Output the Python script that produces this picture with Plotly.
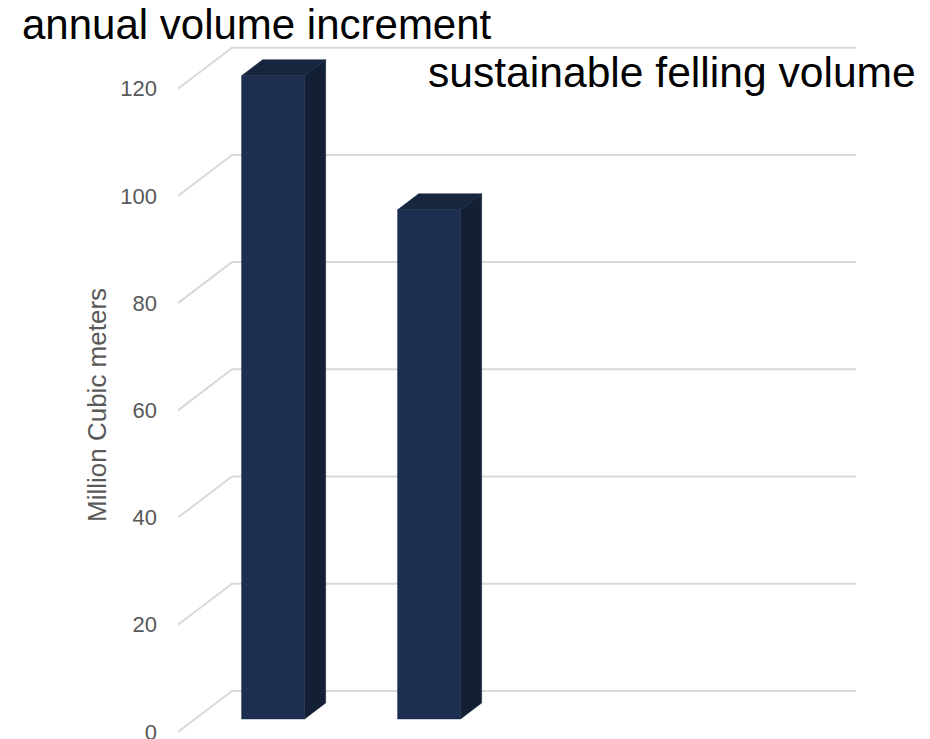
import plotly.graph_objects as go

# Data
categories = ["annual volume increment", "sustainable felling volume"]
values = [120, 95]
y_ticks = [0, 20, 40, 60, 80, 100, 120]
y_title = "Million Cubic meters"
n_slots = 4  # category slots on the floor of the 3-D box

# Oblique projection of the 3-D box: depth t in [0, 1] shifts a point
# right by DX (slot units) and up by DY (value units).
DX = 0.346
DY = 7.65
T_FRONT, T_BACK = 0.317, 0.707
BAR_W = 0.404

FRONT_C = "#1d2e50"
SIDE_C = "#121f34"
TOP_C = "#17263f"
GRID_C = "#d9d9d9"
FONT = "Liberation Sans, Arial, sans-serif"


def proj(x, v, t):
    return x + t * DX, v + t * DY


def poly(points):
    xs, ys = [], []
    for x, v, t in points:
        px, py = proj(x, v, t)
        xs.append(px)
        ys.append(py)
    xs.append(xs[0])
    ys.append(ys[0])
    return xs, ys


fig = go.Figure()

# Gridlines: diagonal on the side wall, horizontal on the back wall
gx, gy = [], []
for v in y_ticks:
    for x, t in [(0, 0), (0, 1), (n_slots, 1)]:
        px, py = proj(x, v, t)
        gx.append(px)
        gy.append(py)
    gx.append(None)
    gy.append(None)
fig.add_trace(go.Scatter(x=gx, y=gy, mode="lines",
                         line=dict(color=GRID_C, width=2),
                         hoverinfo="skip", showlegend=False))

# 3-D bars: side, top and front faces
for i, (cat, v) in enumerate(zip(categories, values)):
    c = i + 0.5
    x0, x1 = c - BAR_W / 2, c + BAR_W / 2
    faces = [
        ([(x1, 0, T_FRONT), (x1, 0, T_BACK), (x1, v, T_BACK), (x1, v, T_FRONT)], SIDE_C),
        ([(x0, v, T_FRONT), (x1, v, T_FRONT), (x1, v, T_BACK), (x0, v, T_BACK)], TOP_C),
        ([(x0, 0, T_FRONT), (x1, 0, T_FRONT), (x1, v, T_FRONT), (x0, v, T_FRONT)], FRONT_C),
    ]
    for pts, col in faces:
        xs, ys = poly(pts)
        fig.add_trace(go.Scatter(x=xs, y=ys, mode="lines", fill="toself",
                                 fillcolor=col, line=dict(color=col, width=0.5),
                                 name=cat, hovertemplate=f"{cat}: {v}<extra></extra>",
                                 showlegend=False))

W, H = 930, 739
L, R, T, B = 178, 50, 19, 0
plot_w = W - L - R
plot_h = H - T - B
Y_MIN, Y_MAX = -1.31, 133


def paper_y(py):
    return (H - B - py) / plot_h


fig.update_layout(
    width=W, height=H,
    margin=dict(l=L, r=R, t=T, b=B),
    paper_bgcolor="white", plot_bgcolor="white",
    showlegend=False,
    xaxis=dict(range=[0, plot_w / 156.0], visible=False, fixedrange=True,
               automargin=False),
    yaxis=dict(range=[Y_MIN, Y_MAX], tickvals=y_ticks, showgrid=False, zeroline=False,
               showline=False, ticks="", ticklabelstandoff=20,
               ticklabeloverflow="allow", automargin=False,
               tickfont=dict(family=FONT, size=22, color="#595959"),
               fixedrange=True),
    annotations=[
        dict(text=y_title, xref="paper", yref="paper",
             x=(97 - L) / plot_w, y=paper_y(405),
             textangle=-90, showarrow=False, xanchor="center", yanchor="middle",
             font=dict(family=FONT, size=26, color="#595959")),
        dict(text=categories[0], xref="paper", yref="paper",
             x=(20 - L) / plot_w, y=paper_y(25),
             showarrow=False, xanchor="left", yanchor="middle",
             font=dict(family=FONT, size=42, color="#000000")),
        dict(text=categories[1], xref="paper", yref="paper",
             x=(426 - L) / plot_w, y=paper_y(72),
             showarrow=False, xanchor="left", yanchor="middle",
             font=dict(family=FONT, size=42.6, color="#000000")),
    ],
)

fig.write_html("out.html")
